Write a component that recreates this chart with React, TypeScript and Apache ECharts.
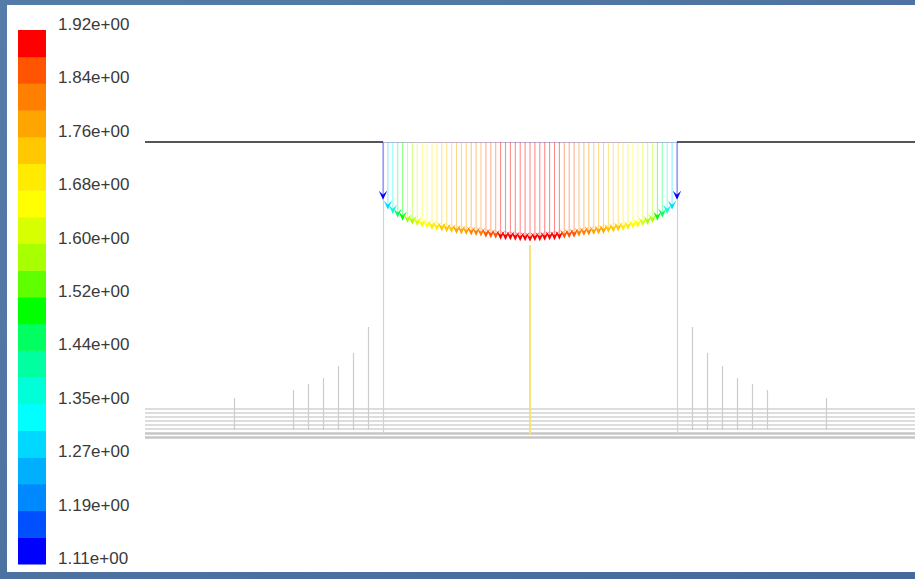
import { useEffect, useRef } from "react";
import * as echarts from "echarts";

// Colour scale: velocity magnitude (m/s), boundary labels bottom -> top
const tickLabels = [
  "1.11e+00", "1.19e+00", "1.27e+00", "1.35e+00", "1.44e+00", "1.52e+00",
  "1.60e+00", "1.68e+00", "1.76e+00", "1.84e+00", "1.92e+00",
];
const magMin = 1.11;
const magMax = 1.92;
// 20 bands, bottom (slow) -> top (fast)
const bandColors = [
  "#0000ff", "#0050ff", "#0088ff", "#00b0ff", "#00d8ff",
  "#00ffff", "#00ffd8", "#00ffa0", "#00ff60", "#00ff00",
  "#60ff00", "#a8ff00", "#d8ff00", "#ffff00", "#ffeb00",
  "#ffc800", "#ffa500", "#ff8000", "#ff5500", "#ff0000",
];

// Velocity vectors across the nozzle exit: x (mm) and magnitude (m/s)
const vectorX = [
  -29.4, -28.42, -27.44, -26.46, -25.48, -24.5, -23.52, -22.54, -21.56, -20.58,
  -19.6, -18.62, -17.64, -16.66, -15.68, -14.7, -13.72, -12.74, -11.76, -10.78,
  -9.8, -8.82, -7.84, -6.86, -5.88, -4.9, -3.92, -2.94, -1.96, -0.98, 0,
  0.98, 1.96, 2.94, 3.92, 4.9, 5.88, 6.86, 7.84, 8.82, 9.8,
  10.78, 11.76, 12.74, 13.72, 14.7, 15.68, 16.66, 17.64, 18.62, 19.6,
  20.58, 21.56, 22.54, 23.52, 24.5, 25.48, 26.46, 27.44, 28.42, 29.4,
];
const vectorMag = [
  1.11, 1.3, 1.38, 1.45, 1.51, 1.56, 1.59, 1.62, 1.65, 1.67,
  1.69, 1.71, 1.72, 1.74, 1.75, 1.77, 1.78, 1.79, 1.8, 1.81,
  1.82, 1.84, 1.85, 1.86, 1.88, 1.89, 1.89, 1.9, 1.91, 1.91, 1.92,
  1.91, 1.91, 1.9, 1.89, 1.89, 1.88, 1.86, 1.85, 1.84, 1.82,
  1.81, 1.8, 1.79, 1.78, 1.77, 1.75, 1.74, 1.72, 1.71, 1.69,
  1.67, 1.65, 1.62, 1.59, 1.56, 1.51, 1.45, 1.38, 1.3, 1.11,
];

// Geometry (mm)
const domainHalfWidth = 77;
const nozzleHalfWidth = 29.4;
const wallBase = -58.6;
const coreTop = -20.6;

// Bed layers (y, mm)
const layerY = [-53.4, -54.2, -55.0, -55.8, -56.6, -57.4, -58.2, -59.0];

// Splash probe lines: x position and top (mm)
const probeX = [-59.2, -47.4, -44.4, -41.4, -38.4, -35.4, -32.4, 32.4, 35.4, 38.4, 41.4, 44.4, 47.4, 59.2];
const probeTop = [-51.2, -49.6, -48.4, -47.2, -44.8, -42.2, -37.0, -37.0, -42.2, -44.8, -47.2, -48.4, -49.6, -51.2];
const probeBase = -57.6;

// mm of arrow per m/s
const VECTOR_SCALE = 10.4;

const FONT = "'Liberation Sans', Arial, Helvetica, sans-serif";

function colorFor(mag: number): string {
  const n = bandColors.length;
  const k = Math.floor(((mag - magMin) / (magMax - magMin)) * n);
  return bandColors[Math.max(0, Math.min(n - 1, k))];
}

export default function App() {
  const ref = useRef<HTMLDivElement>(null);

  useEffect(() => {
    if (!ref.current) return;
    const chart = echarts.init(ref.current, undefined, { renderer: "svg" });

    const option: any = {
      animation: false,
      backgroundColor: {
        type: "linear", x: 0, y: 0, x2: 1, y2: 1,
        colorStops: [
          { offset: 0, color: "#557ca8" },
          { offset: 1, color: "#46699a" },
        ],
      },
      graphic: [
        {
          type: "rect",
          z: -10,
          shape: { x: 7, y: 5, width: 908, height: 567 },
          style: { fill: "#ffffff" },
        },
      ],
      grid: [
        { left: 145, top: 102, width: 770, height: 360 },
        { left: 18, top: 30, width: 28, height: 534 },
      ],
      xAxis: [
        { type: "value", gridIndex: 0, min: -domainHalfWidth, max: domainHalfWidth, show: false },
        { type: "value", gridIndex: 1, min: 0, max: 1, show: false },
      ],
      yAxis: [
        { type: "value", gridIndex: 0, min: -64, max: 8, show: false },
        {
          type: "value",
          gridIndex: 1,
          position: "right",
          min: 0,
          max: 20,
          interval: 2,
          axisLine: { show: false },
          axisTick: { show: false },
          splitLine: { show: false },
          axisLabel: {
            margin: 12,
            fontFamily: FONT,
            fontSize: 17,
            color: "#3a3a3a",
            verticalAlign: "bottom",
            lineHeight: 11,
            formatter: (v: number) => tickLabels[Math.round(v / 2)] ?? "",
          },
        },
      ],
      series: [
        // bed layers
        {
          type: "lines",
          coordinateSystem: "cartesian2d",
          xAxisIndex: 0,
          yAxisIndex: 0,
          silent: true,
          data: layerY.map((y, i) => ({
            coords: [[-domainHalfWidth, y], [domainHalfWidth, y]],
            lineStyle: {
              color: i >= layerY.length - 2 ? "#c6c6c6" : "#dddddd",
              width: i >= layerY.length - 2 ? 2.5 : 2,
              opacity: 1,
            },
          })),
        },
        // splash probe lines
        {
          type: "lines",
          coordinateSystem: "cartesian2d",
          xAxisIndex: 0,
          yAxisIndex: 0,
          silent: true,
          lineStyle: { color: "#cccccc", width: 1.2, opacity: 1 },
          data: probeX.map((x, i) => ({ coords: [[x, probeBase], [x, probeTop[i]]] })),
        },
        // nozzle walls
        {
          type: "lines",
          coordinateSystem: "cartesian2d",
          xAxisIndex: 0,
          yAxisIndex: 0,
          silent: true,
          lineStyle: { color: "#d2d2d2", width: 1.2, opacity: 1 },
          data: [
            { coords: [[-nozzleHalfWidth, 0], [-nozzleHalfWidth, wallBase]] },
            { coords: [[nozzleHalfWidth, 0], [nozzleHalfWidth, wallBase]] },
          ],
        },
        // jet core line
        {
          type: "lines",
          coordinateSystem: "cartesian2d",
          xAxisIndex: 0,
          yAxisIndex: 0,
          silent: true,
          lineStyle: { color: "#f3e070", width: 1.8, opacity: 1 },
          data: [{ coords: [[0, coreTop], [0, wallBase]] }],
        },
        // free surface and nozzle exit
        {
          type: "lines",
          coordinateSystem: "cartesian2d",
          xAxisIndex: 0,
          yAxisIndex: 0,
          silent: true,
          data: [
            { coords: [[-domainHalfWidth, 0], [-nozzleHalfWidth, 0]], lineStyle: { color: "#555555", width: 2, opacity: 1 } },
            { coords: [[nozzleHalfWidth, 0], [domainHalfWidth, 0]], lineStyle: { color: "#555555", width: 2, opacity: 1 } },
            { coords: [[-nozzleHalfWidth, 0], [nozzleHalfWidth, 0]], lineStyle: { color: "#bdb8d8", width: 1.2, opacity: 1 } },
          ],
        },
        // velocity vectors
        {
          type: "custom",
          xAxisIndex: 0,
          yAxisIndex: 0,
          silent: true,
          z: 5,
          data: vectorX.map((x, i) => [x, vectorMag[i]]),
          renderItem: (_params: any, api: any) => {
            const x = api.value(0) as number;
            const mag = api.value(1) as number;
            const base = api.coord([x, 0]);
            const tip = api.coord([x, -mag * VECTOR_SCALE]);
            const color = colorFor(mag);
            const ah = 9;
            const aw = 4.2;
            return {
              type: "group",
              children: [
                {
                  type: "line",
                  shape: { x1: base[0], y1: base[1], x2: tip[0], y2: tip[1] - 4 },
                  style: { stroke: color, lineWidth: 1.1, opacity: 0.45 },
                },
                {
                  type: "polygon",
                  shape: {
                    points: [
                      [tip[0], tip[1]],
                      [tip[0] - aw, tip[1] - ah],
                      [tip[0], tip[1] - ah * 0.55],
                      [tip[0] + aw, tip[1] - ah],
                    ],
                  },
                  style: { fill: color },
                },
              ],
            };
          },
        },
        // colour bar
        {
          type: "custom",
          xAxisIndex: 1,
          yAxisIndex: 1,
          silent: true,
          data: bandColors.map((_c, i) => [i]),
          renderItem: (_params: any, api: any) => {
            const k = api.value(0) as number;
            const p0 = api.coord([0, k + 1]);
            const p1 = api.coord([1, k]);
            return {
              type: "rect",
              shape: { x: p0[0], y: p0[1], width: p1[0] - p0[0], height: p1[1] - p0[1] + 0.5 },
              style: { fill: bandColors[k] },
            };
          },
        },
      ],
    };

    chart.setOption(option);
    return () => chart.dispose();
  }, []);

  return (
    <div
      ref={ref}
      style={{ position: "absolute", left: 0, top: 0, width: 915, height: 579 }}
    />
  );
}
